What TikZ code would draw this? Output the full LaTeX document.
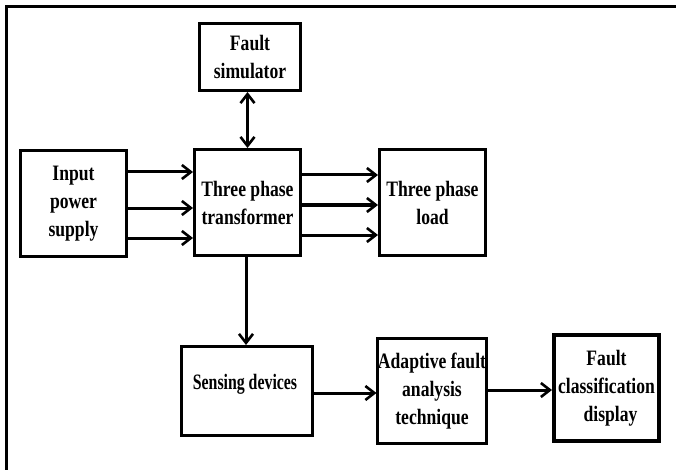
\documentclass[tikz,border=0pt]{standalone}
\usepackage{fontspec}
\setmainfont{Liberation Serif}[FakeStretch=0.8]
\newfontfamily\narrowfont{Liberation Serif}[FakeStretch=0.72]
\usetikzlibrary{arrows.meta}
\begin{document}
\begin{tikzpicture}[x=1pt,y=-1pt,
  blk/.style={draw,line width=3pt,inner sep=0pt,align=center,
    font=\bfseries\fontsize{22}{28}\selectfont},
  arr/.style={line width=3pt,-{Straight Barb[length=9pt,width=14pt,line width=2.6pt]}},
  darr/.style={line width=3pt,{Straight Barb[length=9pt,width=14pt,line width=2.6pt]}-{Straight Barb[length=9pt,width=14pt,line width=2.6pt]}}]
\useasboundingbox (0,0) rectangle (676,470);
\draw[line width=3pt] (6,470) -- (6,7) -- (676,7);
\node[blk,minimum width=101pt,minimum height=67pt] (sim) at (250,57) {Fault\\simulator};
\node[blk,minimum width=106pt,minimum height=106pt] (inp) at (73.5,203.5) {Input\\power\\supply};
\node[blk,minimum width=106pt,minimum height=106pt] (tr) at (247.5,202.5) {Three phase\\transformer};
\node[blk,minimum width=106pt,minimum height=106pt] (load) at (432.5,202.5) {Three phase\\load};
\node[blk,minimum width=131pt,minimum height=89pt] (sens) at (247,391) {};
\node[font=\narrowfont\bfseries\fontsize{22}{28}\selectfont,inner sep=0pt] (senst) at (245,384) {Sensing devices};
\node[blk,minimum width=107pt,minimum height=105pt] (adapt) at (432,391) {Adaptive fault\\analysis\\technique};
\node[blk,line width=4pt,minimum width=105pt,minimum height=106pt] (disp) at (606.5,388) {Fault\\classification\\\hspace*{8pt}display};
% input -> transformer
\draw[arr] ([yshift=31.5pt]inp.east) -- ([yshift=31.5pt]inp.east -| tr.west);
\draw[arr] ([yshift=-4.5pt]inp.east) -- ([yshift=-4.5pt]inp.east -| tr.west);
\draw[arr] ([yshift=-34.5pt]inp.east) -- ([yshift=-34.5pt]inp.east -| tr.west);
% transformer -> load
\draw[arr] ([yshift=27.5pt]tr.east) -- ([yshift=27.5pt]tr.east -| load.west);
\draw[arr] ([yshift=-2.5pt]tr.east) -- ([yshift=-2.5pt]tr.east -| load.west);
\draw[arr] ([yshift=-32.5pt]tr.east) -- ([yshift=-32.5pt]tr.east -| load.west);
% simulator <-> transformer
\draw[darr] (tr.north) -- (tr.north |- sim.south);
% transformer -> sensing
\draw[arr] ([xshift=-1.5pt]tr.south) -- ([xshift=-1.5pt]tr.south |- sens.north);
% sensing -> adaptive
\draw[arr] ([yshift=-2pt]sens.east) -- ([yshift=-2pt]sens.east -| adapt.west);
% adaptive -> display
\draw[arr] ([yshift=1pt]adapt.east) -- ([yshift=1pt]adapt.east -| disp.west);
\end{tikzpicture}
\end{document}
